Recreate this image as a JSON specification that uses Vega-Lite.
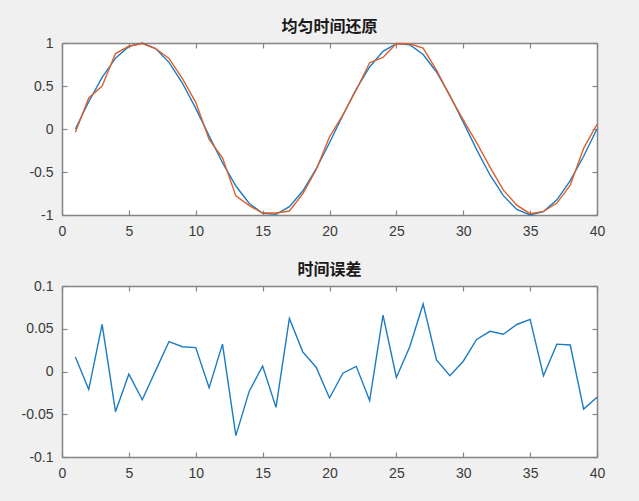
{
  "$schema": "https://vega.github.io/schema/vega-lite/v6.json",
  "background": "#f0f0f0",
  "padding": {"left": 21, "top": 19, "right": 41, "bottom": 22},
  "spacing": 24,
  "datasets": {
    "wave": [
      {"x": 1, "sig": 0, "rec": -0.037},
      {"x": 2, "sig": 0.3167, "rec": 0.3605},
      {"x": 3, "sig": 0.6007, "rec": 0.5},
      {"x": 4, "sig": 0.823, "rec": 0.877},
      {"x": 5, "sig": 0.9607, "rec": 0.9625},
      {"x": 6, "sig": 0.9992, "rec": 0.9937},
      {"x": 7, "sig": 0.935, "rec": 0.9358},
      {"x": 8, "sig": 0.7746, "rec": 0.821},
      {"x": 9, "sig": 0.5345, "rec": 0.587},
      {"x": 10, "sig": 0.2393, "rec": 0.31},
      {"x": 11, "sig": -0.0805, "rec": -0.122},
      {"x": 12, "sig": -0.392, "rec": -0.335},
      {"x": 13, "sig": -0.6631, "rec": -0.778},
      {"x": 14, "sig": -0.866, "rec": -0.891},
      {"x": 15, "sig": -0.9798, "rec": -0.977},
      {"x": 16, "sig": -0.9927, "rec": -0.977},
      {"x": 17, "sig": -0.9035, "rec": -0.954},
      {"x": 18, "sig": -0.7212, "rec": -0.755},
      {"x": 19, "sig": -0.4647, "rec": -0.474},
      {"x": 20, "sig": -0.1604, "rec": -0.093},
      {"x": 21, "sig": 0.1604, "rec": 0.165},
      {"x": 22, "sig": 0.4647, "rec": 0.453},
      {"x": 23, "sig": 0.7212, "rec": 0.771},
      {"x": 24, "sig": 0.9035, "rec": 0.832},
      {"x": 25, "sig": 0.9927, "rec": 0.995},
      {"x": 26, "sig": 0.9798, "rec": 0.991},
      {"x": 27, "sig": 0.866, "rec": 0.94},
      {"x": 28, "sig": 0.6631, "rec": 0.685},
      {"x": 29, "sig": 0.392, "rec": 0.382},
      {"x": 30, "sig": 0.0805, "rec": 0.107},
      {"x": 31, "sig": -0.2393, "rec": -0.159},
      {"x": 32, "sig": -0.5345, "rec": -0.444},
      {"x": 33, "sig": -0.7746, "rec": -0.711},
      {"x": 34, "sig": -0.935, "rec": -0.885},
      {"x": 35, "sig": -0.9992, "rec": -0.985},
      {"x": 36, "sig": -0.9607, "rec": -0.958},
      {"x": 37, "sig": -0.823, "rec": -0.861},
      {"x": 38, "sig": -0.6007, "rec": -0.654},
      {"x": 39, "sig": -0.3167, "rec": -0.225},
      {"x": 40, "sig": 0, "rec": 0.055}
    ],
    "err": [
      {"x": 1, "e": 0.017},
      {"x": 2, "e": -0.021},
      {"x": 3, "e": 0.055},
      {"x": 4, "e": -0.047},
      {"x": 5, "e": -0.003},
      {"x": 6, "e": -0.033},
      {"x": 7, "e": 0.001},
      {"x": 8, "e": 0.035},
      {"x": 9, "e": 0.029},
      {"x": 10, "e": 0.028},
      {"x": 11, "e": -0.019},
      {"x": 12, "e": 0.032},
      {"x": 13, "e": -0.075},
      {"x": 14, "e": -0.023},
      {"x": 15, "e": 0.0065},
      {"x": 16, "e": -0.042},
      {"x": 17, "e": 0.062},
      {"x": 18, "e": 0.023},
      {"x": 19, "e": 0.005},
      {"x": 20, "e": -0.031},
      {"x": 21, "e": -0.002},
      {"x": 22, "e": 0.006},
      {"x": 23, "e": -0.034},
      {"x": 24, "e": 0.066},
      {"x": 25, "e": -0.007},
      {"x": 26, "e": 0.029},
      {"x": 27, "e": 0.079},
      {"x": 28, "e": 0.0135},
      {"x": 29, "e": -0.005},
      {"x": 30, "e": 0.012},
      {"x": 31, "e": 0.0375},
      {"x": 32, "e": 0.047},
      {"x": 33, "e": 0.0435},
      {"x": 34, "e": 0.055},
      {"x": 35, "e": 0.061},
      {"x": 36, "e": -0.005},
      {"x": 37, "e": 0.032},
      {"x": 38, "e": 0.031},
      {"x": 39, "e": -0.044},
      {"x": 40, "e": -0.03}
    ]
  },
  "config": {
    "view": {"stroke": null, "fill": "#ffffff"},
    "axis": {
      "grid": false,
      "title": null,
      "domainColor": "#858585",
      "domainWidth": 1.5,
      "tickColor": "#858585",
      "tickWidth": 1.2,
      "tickSize": -5,
      "labelFont": "Liberation Sans",
      "labelFontSize": 14,
      "labelColor": "#3a3a3a",
      "labelPadding": 14,
      "labelFlush": false,
      "labelOverlap": false
    },
    "title": {
      "font": "Noto Sans CJK SC",
      "fontSize": 16,
      "fontWeight": "bold",
      "color": "#1a1a1a",
      "anchor": "middle",
      "offset": 1
    }
  },
  "vconcat": [
    {
      "width": 535,
      "height": 172,
      "title": "均匀时间还原",
      "data": {"name": "wave"},
      "layer": [
        {
          "mark": {"type": "line", "color": "#1b7cc4", "strokeWidth": 1.4},
          "encoding": {
            "x": {"field": "x", "type": "quantitative", "scale": {"domain": [0, 40], "nice": false, "zero": false},
                  "axis": {"orient": "bottom", "values": [0, 5, 10, 15, 20, 25, 30, 35, 40], "labelExpr": "'' + datum.value"}},
            "y": {"field": "sig", "type": "quantitative", "scale": {"domain": [-1, 1], "nice": false},
                  "axis": {"orient": "left", "values": [-1, -0.5, 0, 0.5, 1], "labelExpr": "'' + datum.value"}}
          }
        },
        {
          "mark": {"type": "line", "color": "#dd5f2a", "strokeWidth": 1.4},
          "encoding": {
            "x": {"field": "x", "type": "quantitative", "scale": {"domain": [0, 40], "nice": false, "zero": false},
                  "axis": {"orient": "top", "values": [0, 5, 10, 15, 20, 25, 30, 35, 40], "labels": false}},
            "y": {"field": "rec", "type": "quantitative", "scale": {"domain": [-1, 1], "nice": false},
                  "axis": {"orient": "right", "values": [-1, -0.5, 0, 0.5, 1], "labels": false}}
          }
        }
      ]
    },
    {
      "width": 535,
      "height": 171,
      "title": "时间误差",
      "data": {"name": "err"},
      "layer": [
        {
          "mark": {"type": "line", "color": "#1b7cc4", "strokeWidth": 1.4},
          "encoding": {
            "x": {"field": "x", "type": "quantitative", "scale": {"domain": [0, 40], "nice": false, "zero": false},
                  "axis": {"orient": "bottom", "values": [0, 5, 10, 15, 20, 25, 30, 35, 40], "labelExpr": "'' + datum.value"}},
            "y": {"field": "e", "type": "quantitative", "scale": {"domain": [-0.1, 0.1], "nice": false},
                  "axis": {"orient": "left", "values": [-0.1, -0.05, 0, 0.05, 0.1], "labelExpr": "'' + datum.value"}}
          }
        },
        {
          "mark": {"type": "line", "strokeOpacity": 0},
          "encoding": {
            "x": {"field": "x", "type": "quantitative", "scale": {"domain": [0, 40], "nice": false, "zero": false},
                  "axis": {"orient": "top", "values": [0, 5, 10, 15, 20, 25, 30, 35, 40], "labels": false}},
            "y": {"field": "e", "type": "quantitative", "scale": {"domain": [-0.1, 0.1], "nice": false},
                  "axis": {"orient": "right", "values": [-0.1, -0.05, 0, 0.05, 0.1], "labels": false}}
          }
        }
      ]
    }
  ]
}
